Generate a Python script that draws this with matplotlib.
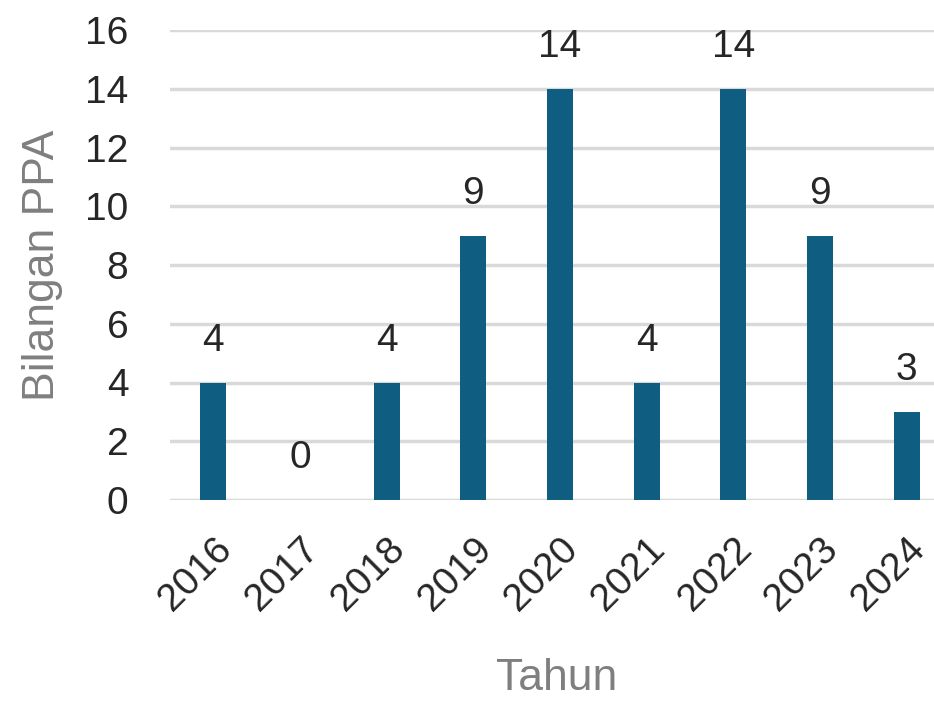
import matplotlib
matplotlib.use("Agg")
import matplotlib.pyplot as plt

years = ["2016", "2017", "2018", "2019", "2020", "2021", "2022", "2023", "2024"]
counts = [4, 0, 4, 9, 14, 4, 14, 9, 3]
yticks = [0, 2, 4, 6, 8, 10, 12, 14, 16]

plt.rcParams['font.family'] = ['Liberation Sans', 'DejaVu Sans']

fig = plt.figure(figsize=(9.34, 7.01), dpi=100)
L, R, T, B = 170, 950, 30, 500
ax = fig.add_axes([L/934, 1 - B/701, (R-L)/934, (B-T)/701])

x = list(range(len(years)))
ax.bar(x, counts, width=0.3, color="#0F5E81", zorder=3)
ax.set_xlim(-0.5, len(years) - 0.5)
ax.set_ylim(0, 16)
ax.set_yticks(yticks)
ax.set_yticklabels([str(t) for t in yticks])
ax.set_xticks(x)
ax.set_xticklabels(years, rotation=45, ha="right", va="top", rotation_mode="anchor")

ax.grid(axis="y", color="#D9D9D9", linewidth=2.5, zorder=0)
for s in ax.spines.values():
    s.set_visible(False)
ax.tick_params(axis="both", length=0, labelsize=28, labelcolor="#262626")
ax.tick_params(axis="y", pad=30)
ax.tick_params(axis="x", pad=22)

for xi, v in zip(x, counts):
    ax.annotate(str(v), (xi, v), xytext=(0, 23), textcoords="offset points",
                ha="center", va="baseline", fontsize=28, color="#262626")

ax.set_xlabel("Tahun", fontsize=32, color="#7F7F7F")
ax.xaxis.label.set_va("baseline")
ax.xaxis.set_label_coords((557 - L) / (R - L), (B - 690) / (B - T))
ax.set_ylabel("Bilangan PPA", fontsize=32, color="#7F7F7F")
ax.yaxis.label.set_va("center")
ax.yaxis.set_label_coords((42 - L) / (R - L), (B - 265) / (B - T))

fig.savefig("out.png", dpi=100)
